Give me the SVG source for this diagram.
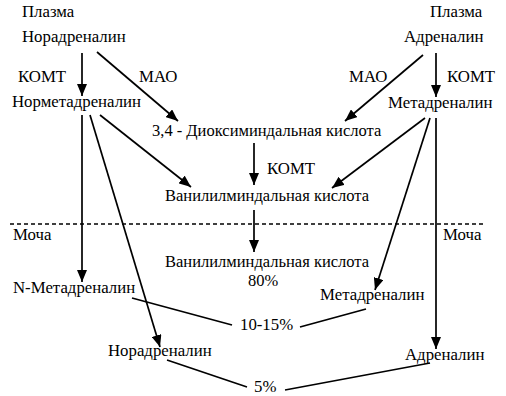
<svg xmlns="http://www.w3.org/2000/svg" width="506" height="396" viewBox="0 0 506 396">
<style>
.c line{stroke:#000;stroke-width:1.7;fill:none}
.c .a{marker-end:url(#ah)}
.c .d{stroke-dasharray:4 3;stroke-width:1.5}
</style>
<defs>
<marker id="ah" markerUnits="userSpaceOnUse" markerWidth="12" markerHeight="10" viewBox="0 0 12 10" refX="12" refY="5" orient="auto">
<path d="M0,0 L12,5 L0,10 z" fill="#000"/>
</marker>
</defs>
<rect width="506" height="396" fill="#fff"/>
<g class="c" id="connectors">
<line class="a" x1="82" y1="53" x2="82" y2="96"/>
<line class="a" x1="97" y1="52" x2="178" y2="121"/>
<line class="a" x1="436" y1="53" x2="436" y2="97"/>
<line class="a" x1="423" y1="55" x2="345" y2="121"/>
<line class="a" x1="254" y1="143" x2="254" y2="185"/>
<line class="a" x1="100" y1="115" x2="191" y2="187"/>
<line class="a" x1="425" y1="118" x2="332" y2="188"/>
<line class="a" x1="254" y1="210" x2="254" y2="252"/>
<line class="a" x1="82" y1="115" x2="82" y2="282"/>
<line class="a" x1="90" y1="115" x2="160" y2="347"/>
<line class="a" x1="430" y1="118" x2="375" y2="290"/>
<line class="a" x1="436" y1="118" x2="436" y2="349"/>
<line class="d" x1="10" y1="224" x2="486" y2="224"/>
<line x1="132" y1="298" x2="232" y2="325"/>
<line x1="366" y1="309" x2="300" y2="327"/>
<line x1="167" y1="360" x2="247" y2="387"/>
<line x1="430" y1="363" x2="285" y2="390"/>
</g>
<g id="plazma-l"><text x="22" y="17" font-family="Liberation Serif" font-size="16.8">Плазма</text></g>
<g id="norad"><text x="22" y="42" font-family="Liberation Serif" font-size="16.8">Норадреналин</text></g>
<g id="komt-l"><text x="18" y="82" font-family="Liberation Serif" font-size="16.8">КОМТ</text></g>
<g id="mao-l"><text x="139" y="82" font-family="Liberation Serif" font-size="16.8">МАО</text></g>
<g id="normet"><text x="12" y="107" font-family="Liberation Serif" font-size="16.8">Норметадреналин</text></g>
<g id="plazma-r"><text x="430" y="17" font-family="Liberation Serif" font-size="16.8">Плазма</text></g>
<g id="adren"><text x="404" y="42" font-family="Liberation Serif" font-size="16.8">Адреналин</text></g>
<g id="mao-r"><text x="349" y="82" font-family="Liberation Serif" font-size="16.8">МАО</text></g>
<g id="komt-r"><text x="447" y="82" font-family="Liberation Serif" font-size="16.8">КОМТ</text></g>
<g id="metad"><text x="388" y="108" font-family="Liberation Serif" font-size="16.8">Метадреналин</text></g>
<g id="diox"><text x="152" y="136" font-family="Liberation Serif" font-size="16.5">3,4 - Диоксиминдальная кислота</text></g>
<g id="komt-m"><text x="267" y="174" font-family="Liberation Serif" font-size="16.8">КОМТ</text></g>
<g id="vma"><text x="165" y="201" font-family="Liberation Serif" font-size="16.5">Ванилилминдальная кислота</text></g>
<g id="mocha-l"><text x="13" y="240" font-family="Liberation Serif" font-size="16.8">Моча</text></g>
<g id="mocha-r"><text x="443" y="240" font-family="Liberation Serif" font-size="16.8">Моча</text></g>
<g id="vma-u"><text x="165" y="267" font-family="Liberation Serif" font-size="16.5">Ванилилминдальная кислота</text><text x="248" y="286" font-family="Liberation Serif" font-size="16.5">80%</text></g>
<g id="nmet-u"><text x="13" y="293" font-family="Liberation Serif" font-size="16.8">N-Метадреналин</text></g>
<g id="metad-u"><text x="320" y="300" font-family="Liberation Serif" font-size="16.8">Метадреналин</text></g>
<g id="p1015"><text x="240" y="330" font-family="Liberation Serif" font-size="16.8">10-15%</text></g>
<g id="norad-u"><text x="108" y="356" font-family="Liberation Serif" font-size="16.8">Норадреналин</text></g>
<g id="adren-u"><text x="405" y="360" font-family="Liberation Serif" font-size="16.8">Адреналин</text></g>
<g id="p5"><text x="254" y="392" font-family="Liberation Serif" font-size="16.8">5%</text></g>
</svg>
